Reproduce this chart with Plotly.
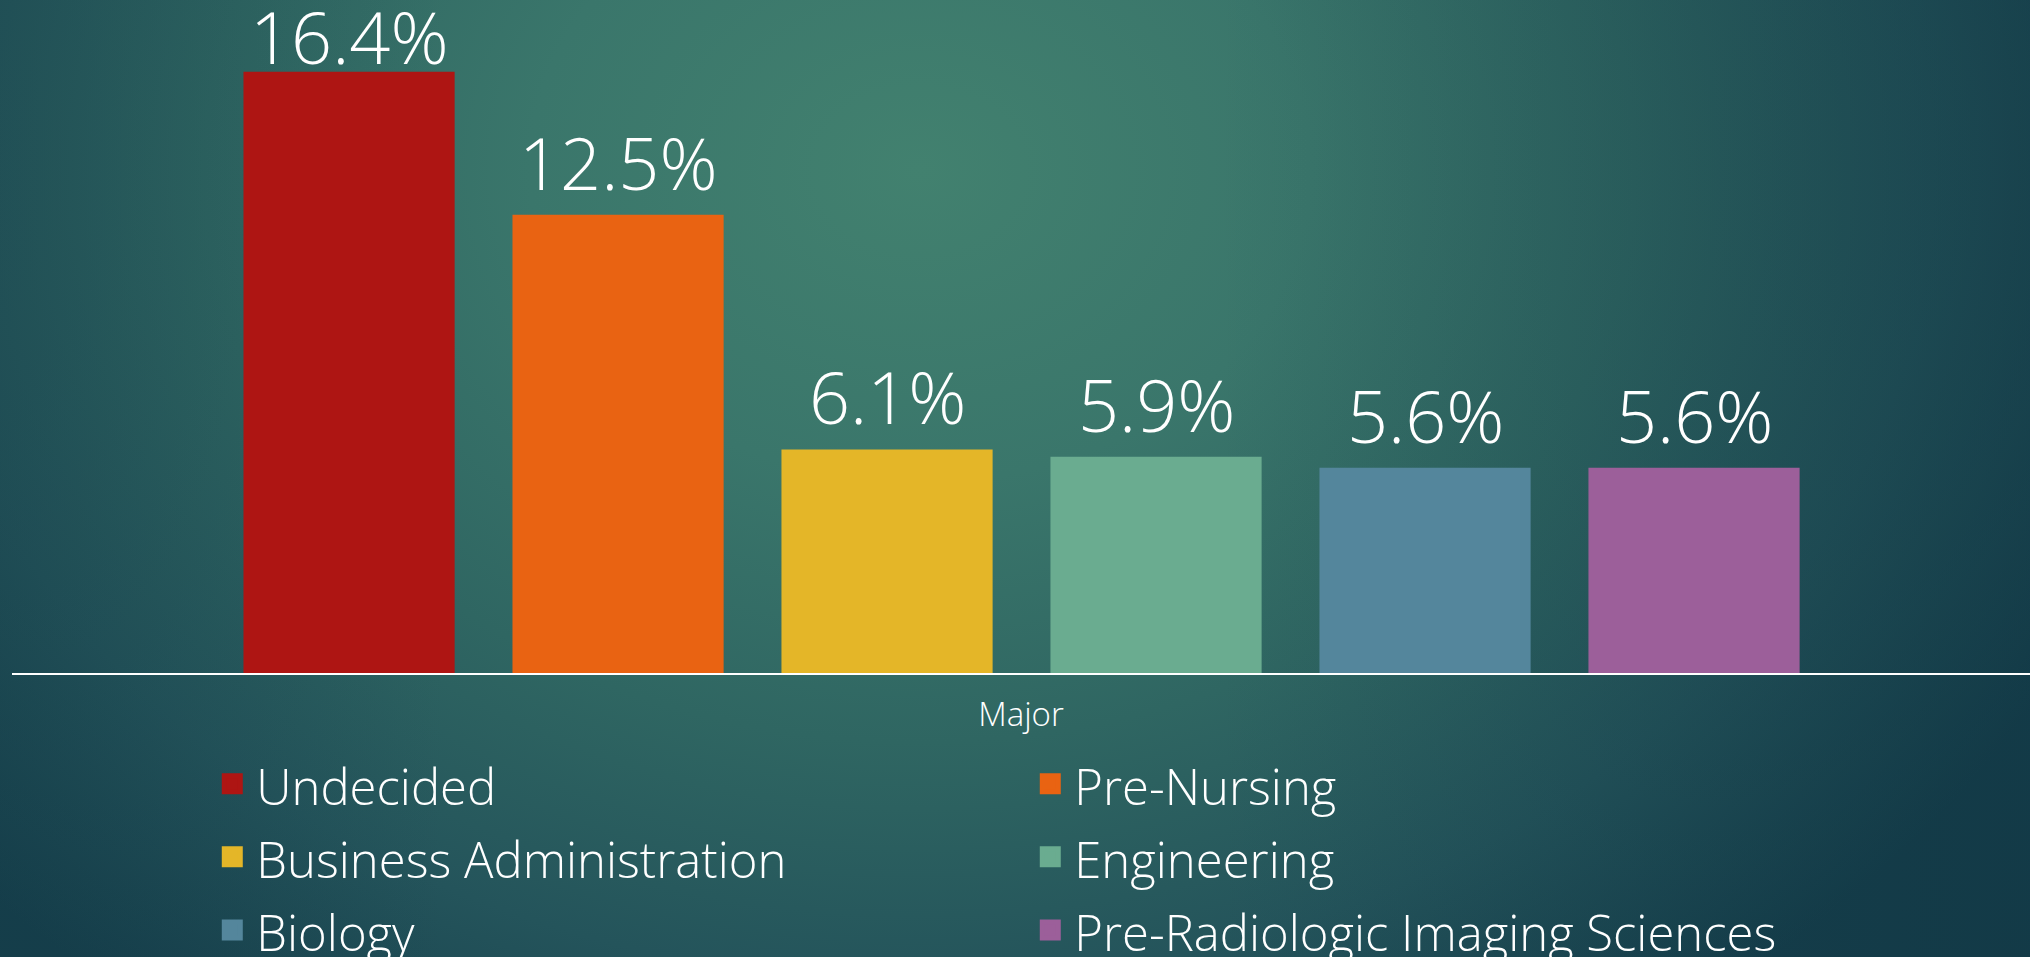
import base64
import plotly.graph_objects as go

categories = ["Undecided", "Pre-Nursing", "Business Administration", "Engineering",
              "Biology", "Pre-Radiologic Imaging Sciences"]
values = [16.4, 12.5, 6.1, 5.9, 5.6, 5.6]
colors = ["#ae1513", "#e96312", "#e4b628", "#6aac90", "#54869c", "#9c5f9a"]
axis_title = "Major"

W, H = 2030, 957
ML, MR, MT, MB = 12, 0, 0, 284
PW, PH = W - ML - MR, H - MT - MB
Y_MAX = 18.36
PX_PER_UNIT = PH / Y_MAX
LABEL_BOX = 87  # approx. label height in px, used to keep the top label inside the chart

svg = f"""<svg xmlns='http://www.w3.org/2000/svg' width='{W}' height='{H}' viewBox='0 0 {W} {H}'>
<defs>
<radialGradient id='g' gradientUnits='userSpaceOnUse' cx='920' cy='170' r='1300' fx='920' fy='170'
 gradientTransform='translate(920,170) scale(1,0.8) translate(-920,-170)'>
<stop offset='0' stop-color='#42816f'/>
<stop offset='0.3' stop-color='#3a766b'/>
<stop offset='0.55' stop-color='#2f6662'/>
<stop offset='0.78' stop-color='#24545b'/>
<stop offset='1' stop-color='#163f4c'/>
</radialGradient>
<linearGradient id='r' x1='0' y1='0' x2='1' y2='0'>
<stop offset='0.6' stop-color='#0e3340' stop-opacity='0'/>
<stop offset='1' stop-color='#0e3340' stop-opacity='0.4'/>
</linearGradient>
<linearGradient id='l' x1='0' y1='0' x2='1' y2='0'>
<stop offset='0' stop-color='#123a45' stop-opacity='0.3'/>
<stop offset='0.22' stop-color='#123a45' stop-opacity='0'/>
</linearGradient>
</defs>
<rect width='{W}' height='{H}' fill='url(#g)'/>
<rect width='{W}' height='{H}' fill='url(#r)'/>
<rect width='{W}' height='{H}' fill='url(#l)'/>
</svg>"""
bg_src = "data:image/svg+xml;base64," + base64.b64encode(svg.encode()).decode()

fig = go.Figure()
for cat, val, col in zip(categories, values, colors):
    fig.add_trace(go.Bar(
        x=[cat], y=[val], name=cat, marker_color=col, marker_line_width=0,
        width=0.785, showlegend=False, legendgroup=cat, hoverinfo="x+y",
    ))
    shift = min(2, PH - val * PX_PER_UNIT - LABEL_BOX)
    fig.add_annotation(
        x=cat, y=val, xref="x", yref="y", text=f"{val}%", showarrow=False,
        yanchor="bottom", yshift=shift,
        font=dict(color="white", size=72, family="Open Sans", weight=300),
    )
# legend entries (square swatches) for the same categories
for cat, col in zip(categories, colors):
    fig.add_trace(go.Scatter(
        x=[None], y=[None], mode="markers", legendgroup=cat,
        name=f"<span style='font-size:49px'>{cat}</span>",
        marker=dict(symbol="square", size=16, color=col, line=dict(color=col, width=5)),
        hoverinfo="skip",
    ))

fig.update_layout(
    width=W, height=H,
    margin=dict(l=ML, r=MR, t=MT, b=MB, autoexpand=False),
    barmode="overlay",
    paper_bgcolor="rgba(0,0,0,0)", plot_bgcolor="rgba(0,0,0,0)",
    font=dict(family="Open Sans", color="white"),
    images=[dict(source=bg_src, xref="paper", yref="paper",
                 x=-ML / PW, y=1 + MT / PH, sizex=W / PW, sizey=H / PH,
                 xanchor="left", yanchor="top", sizing="stretch", layer="below")],
    xaxis=dict(range=[-1.253, 6.249], showticklabels=False, showgrid=False,
               zeroline=False, showline=True, linecolor="white", linewidth=2,
               ticks="",
               title=dict(text=axis_title, font=dict(size=33, color="white", family="Open Sans", weight=300),
                          standoff=29)),
    yaxis=dict(range=[0, Y_MAX], visible=False),
    showlegend=True,
    legend=dict(orientation="h", xref="container", yref="container",
                x=0.1026, xanchor="left", y=0.2246, yanchor="top",
                entrywidth=765, entrywidthmode="pixels", itemwidth=38,
                font=dict(size=54, color="white", family="Open Sans", weight=300),
                bgcolor="rgba(0,0,0,0)", traceorder="normal", itemclick=False,
                itemdoubleclick=False),
)

fig.write_html("out.html", config={"displayModeBar": False},
               post_script="document.body.style.margin='0';document.body.style.overflow='hidden';")
